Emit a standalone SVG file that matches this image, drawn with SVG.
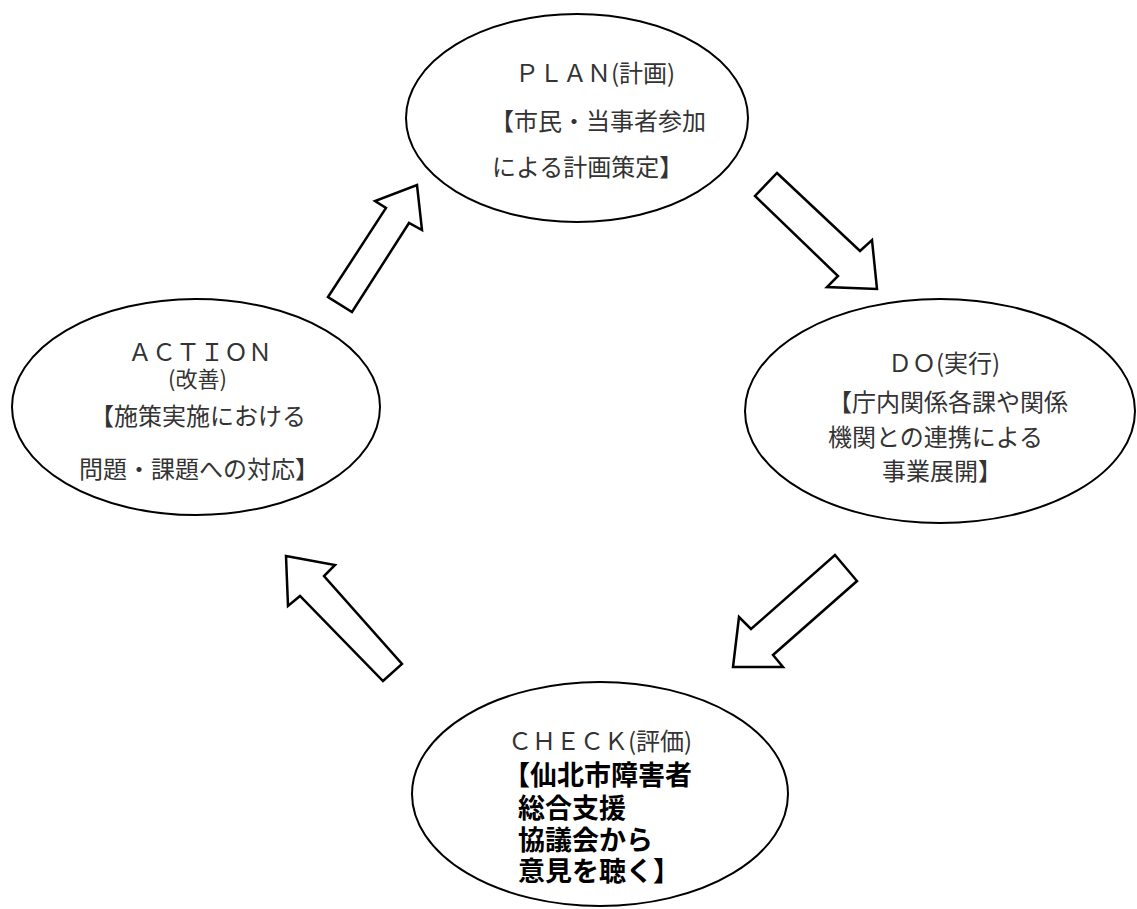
<svg xmlns="http://www.w3.org/2000/svg" width="1137" height="909" viewBox="0 0 1137 909">
<style>
.node{fill:#fff;stroke:#000;stroke-width:2}
.arr{fill:#fff;stroke:#000;stroke-width:2.5;stroke-linejoin:miter}
.t{font-family:"Noto Sans CJK JP","Noto Sans CJK SC",sans-serif;font-size:24px;fill:#333}
.b{font-family:"Noto Sans CJK JP","Noto Sans CJK SC",sans-serif;font-size:27px;font-weight:bold;fill:#000}
</style>
<rect width="1137" height="909" fill="#fff"/>
<g id="connectors">
<polygon class="arr" points="328,297 386,208 375,201 417,185 422,230 409,223 352,312"/>
<polygon class="arr" points="777,173 860,251 872,240 877,289 827,287 838,276 755,196"/>
<polygon class="arr" points="835,555 857,581 773,655 783,667 733,667 739,617 751,629"/>
<polygon class="arr" points="286,556 335,565 324,576 402,664 383,681 300,596 288,606"/>
</g>
<g id="plan">
<ellipse class="node" cx="577" cy="118" rx="171" ry="104"/>
<text class="t" x="515" y="82">ＰＬＡＮ(計画)</text>
<text class="t" x="490" y="130">【市民・当事者参加</text>
<text class="t" x="492" y="176">による計画策定】</text>
</g>
<g id="action">
<ellipse class="node" cx="196" cy="407" rx="184" ry="108"/>
<text class="t" x="128" y="361">ＡＣＴＩＯＮ</text>
<text class="t" x="168" y="387" style="font-size:22px">(改善)</text>
<text class="t" x="90" y="425">【施策実施における</text>
<text class="t" x="79" y="478">問題・課題への対応】</text>
</g>
<g id="do">
<ellipse class="node" cx="940" cy="411" rx="195" ry="112"/>
<text class="t" x="888" y="372">ＤＯ(実行)</text>
<text class="t" x="828" y="411">【庁内関係各課や関係</text>
<text class="t" x="828" y="446">機関との連携による</text>
<text class="t" x="882" y="480">事業展開】</text>
</g>
<g id="check">
<ellipse class="node" cx="600" cy="794" rx="188" ry="112"/>
<text class="t" x="508" y="750">ＣＨＥＣＫ(評価)</text>
<text class="b" x="503" y="785">【仙北市障害者</text>
<text class="b" x="518" y="818">総合支援</text>
<text class="b" x="518" y="850">協議会から</text>
<text class="b" x="518" y="881">意見を聴く】</text>
</g>
</svg>
